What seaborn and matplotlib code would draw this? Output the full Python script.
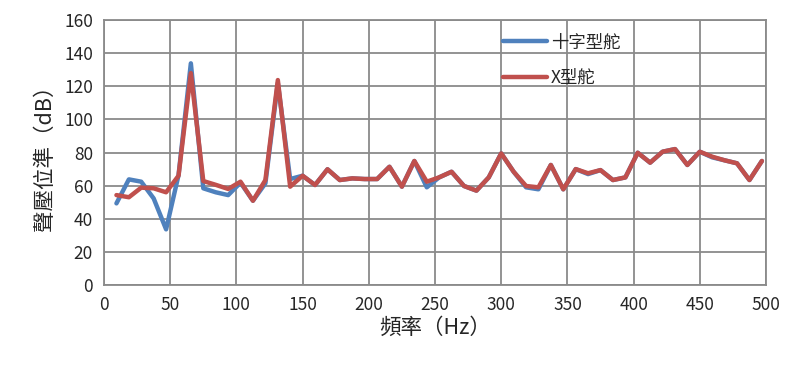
import pandas as pd
import seaborn as sns
import matplotlib
matplotlib.use("Agg")
import matplotlib.pyplot as plt

# frequency (Hz)
freq = [9.4, 18.8, 28.1, 37.5, 46.9, 56.3, 65.6, 75.0, 84.4, 93.8,
        103.1, 112.5, 121.9, 131.3, 140.6, 150.0, 159.4, 168.8, 178.1, 187.5,
        196.9, 206.3, 215.6, 225.0, 234.4, 243.8, 253.1, 262.5, 271.9, 281.3,
        290.6, 300.0, 309.4, 318.8, 328.1, 337.5, 346.9, 356.3, 365.6, 375.0,
        384.4, 393.8, 403.1, 412.5, 421.9, 431.3, 440.6, 450.0, 459.4, 468.8,
        478.1, 487.5, 496.9]

# 十字型舵
cross_rudder = [49.3, 63.8, 62.4, 52.3, 33.6, 66.4, 133.9, 58.4, 56.0, 54.3,
                61.8, 50.9, 61.4, 122.0, 64.0, 66.0, 60.4, 69.9, 63.4, 64.4,
                64.0, 64.0, 71.4, 59.4, 74.9, 59.0, 65.0, 68.4, 59.8, 57.0,
                65.0, 79.5, 68.4, 59.0, 57.8, 72.5, 57.8, 70.0, 67.0, 69.4,
                63.4, 65.0, 79.9, 73.9, 80.5, 82.1, 72.5, 80.5, 77.1, 75.3,
                73.5, 63.4, 74.9]

# X型舵
x_rudder = [54.3, 53.0, 58.8, 58.4, 56.0, 66.0, 128.0, 62.8, 60.5, 58.0,
            62.4, 50.9, 63.4, 123.8, 59.4, 66.0, 60.4, 69.9, 63.4, 64.4,
            64.0, 64.0, 71.4, 59.4, 74.9, 62.4, 65.0, 68.4, 59.8, 57.0,
            65.0, 79.5, 68.4, 59.8, 59.0, 72.5, 57.8, 70.0, 67.5, 69.4,
            63.4, 65.0, 79.9, 73.9, 80.5, 82.1, 72.5, 80.5, 77.5, 75.3,
            73.5, 63.4, 74.9]

series_names = ["十字型舵", "X型舵"]
colors = ["#4F81BD", "#C0504D"]

df = pd.concat([
    pd.DataFrame({"freq": freq, "spl": cross_rudder, "type": series_names[0]}),
    pd.DataFrame({"freq": freq, "spl": x_rudder, "type": series_names[1]}),
])

sns.set_style("white")
cjk = ["Noto Sans CJK TC", "DejaVu Sans"]
plt.rcParams["font.family"] = cjk

fig = plt.figure(figsize=(8, 3.73), dpi=100)
ax = fig.add_axes([0.13, 0.236, 0.8275, 0.71])

sns.lineplot(data=df, x="freq", y="spl", hue="type", palette=colors,
             linewidth=3.2, ax=ax, sort=False)

ax.set_xlim(0, 500)
ax.set_ylim(0, 160)
ax.set_xticks(range(0, 501, 50))
ax.set_yticks(range(0, 161, 20))
ax.grid(True, color="#8a8a8a", linewidth=1.3)
for s in ax.spines.values():
    s.set_color("#8a8a8a")
    s.set_linewidth(1.3)
ax.tick_params(direction="inout", length=8, color="#8a8a8a", width=1.3,
               labelsize=12.5, pad=4)

ax.set_xlabel("頻率（Hz）", fontsize=15.5, labelpad=2)
ax.set_ylabel("聲壓位準（dB）", fontsize=15.5, labelpad=6)

ax.legend(loc="upper left", bbox_to_anchor=(0.603, 0.95), frameon=False,
          borderaxespad=0, borderpad=0,
          handlelength=2.5, labelspacing=1.0, handletextpad=0.25,
          prop={"size": 12.5})

fig.savefig("out.png", dpi=100)
